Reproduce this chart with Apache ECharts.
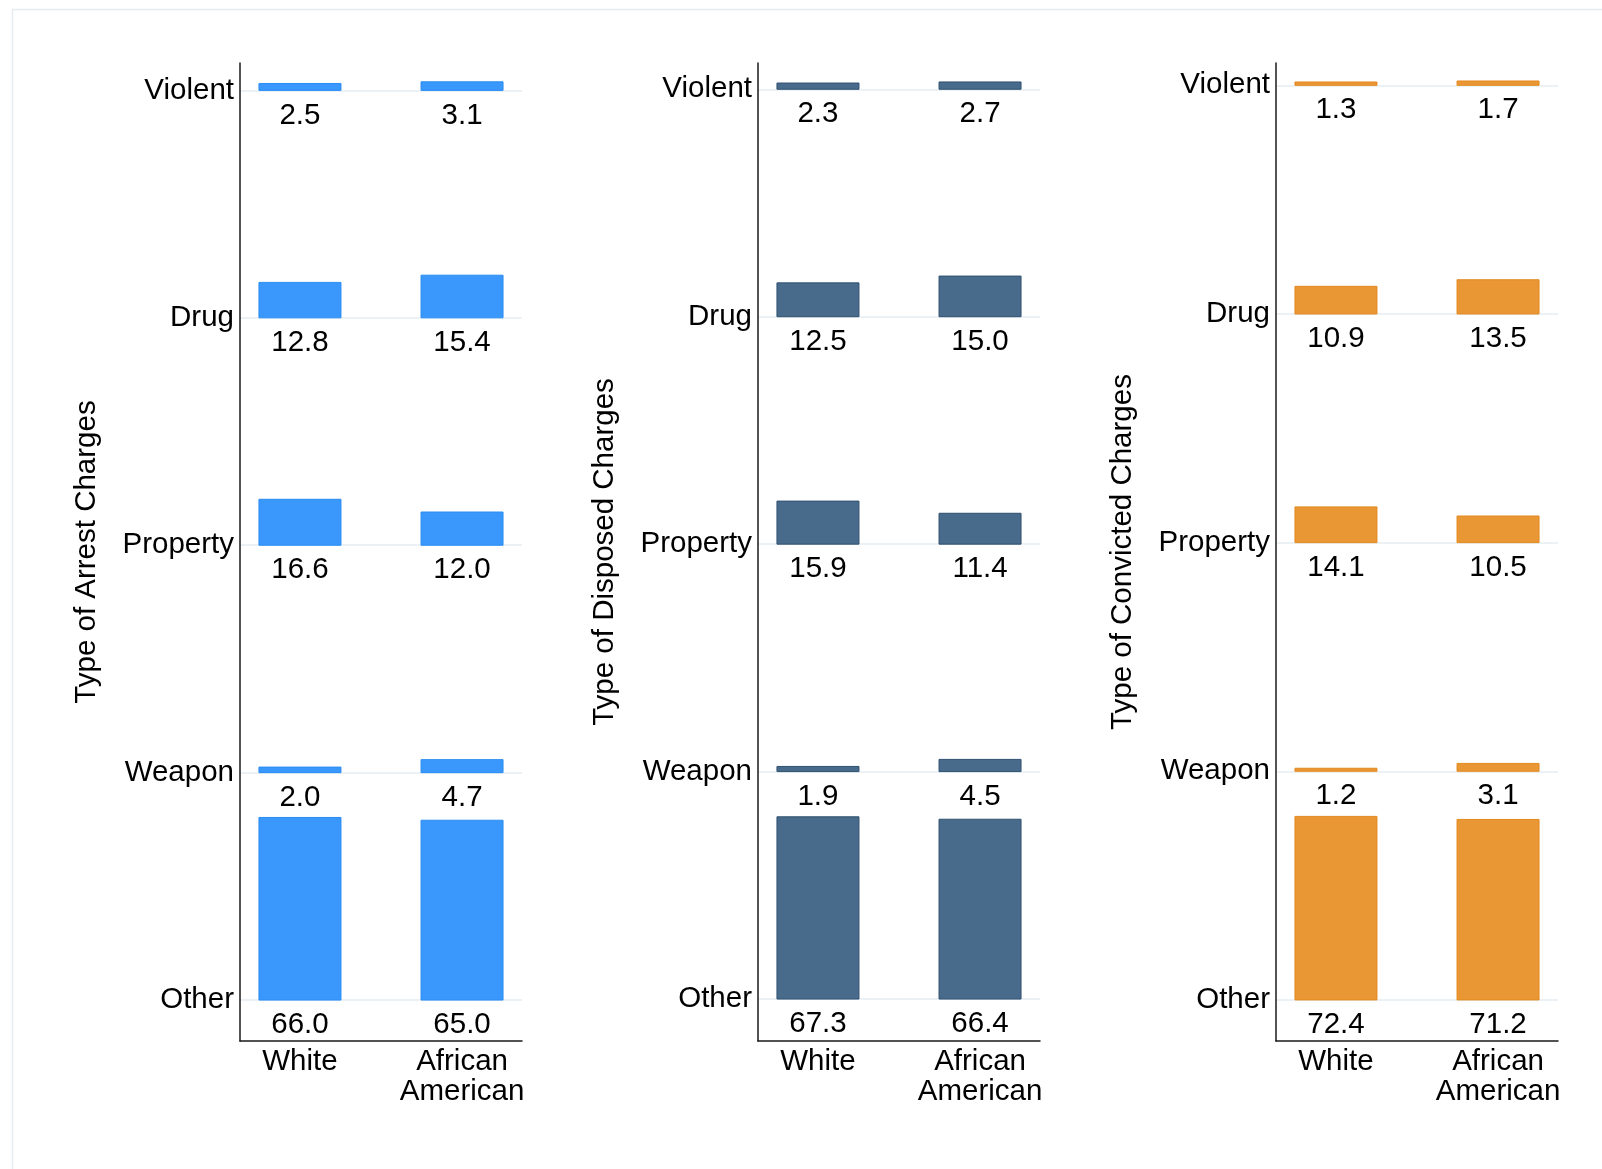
<!DOCTYPE html>
<html>
<head>
<meta charset="utf-8">
<script src="https://cdn.jsdelivr.net/npm/echarts@6/dist/echarts.min.js"></script>
<style>
html,body{margin:0;padding:0;background:#fff;}
#chart{width:1602px;height:1169px;}
</style>
</head>
<body>
<div id="chart"></div>
<script>
// ---- data ----
const categories = ['Violent', 'Drug', 'Property', 'Weapon', 'Other'];
const groups = ['White', 'African\nAmerican'];
const panelTitles = ['Type of Arrest Charges', 'Type of Disposed Charges', 'Type of Convicted Charges'];
const arrestWhite = [2.5, 12.8, 16.6, 2.0, 66.0];
const arrestAA = [3.1, 15.4, 12.0, 4.7, 65.0];
const disposedWhite = [2.3, 12.5, 15.9, 1.9, 67.3];
const disposedAA = [2.7, 15.0, 11.4, 4.5, 66.4];
const convictedWhite = [1.3, 10.9, 14.1, 1.2, 72.4];
const convictedAA = [1.7, 13.5, 10.5, 3.1, 71.2];

// ---- layout / style ----
const panelValues = [[arrestWhite, arrestAA], [disposedWhite, disposedAA], [convictedWhite, convictedAA]];
const panelColors = [
  {fill: '#3a98fc', stroke: '#2a8cf2'},
  {fill: '#496b8b', stroke: '#2f5070'},
  {fill: '#e99735', stroke: '#e3891f'}
];
// row spacing (axis units) and axis range per panel
const rowStep = [82.2, 84.0, 90.2];
const yMin = [-14.8, -15.5, -16.2];
const yMax = [338.7, 345.7, 369.6];
const gridLeft = [240, 758, 1276];
const FONT = 'Liberation Sans, Arial, Helvetica, sans-serif';
const FS = 29.5;
const BAR_W = 82;

const chart = echarts.init(document.getElementById('chart'), null, {renderer: 'canvas'});

const grids = [], xAxes = [], yAxes = [], series = [];
const nRows = categories.length;

panelValues.forEach((pv, p) => {
  const step = rowStep[p];
  const rowVals = categories.map((c, i) => (nRows - 1 - i) * step);
  grids.push({left: gridLeft[p], top: 63, width: 282, height: 978, containLabel: false});
  xAxes.push({
    type: 'value', gridIndex: p, min: -0.37, max: 1.37, position: 'bottom',
    axisLine: {show: true, onZero: false, lineStyle: {color: '#1a1a1a', width: 1.5}},
    axisTick: {show: false, customValues: [0, 1]},
    splitLine: {show: false},
    axisLabel: {
      customValues: [0, 1], margin: 6,
      formatter: v => groups[Math.round(v)],
      color: '#000', fontFamily: FONT, fontSize: FS, lineHeight: 30
    }
  });
  yAxes.push({
    type: 'value', gridIndex: p, min: yMin[p], max: yMax[p], position: 'left',
    name: panelTitles[p], nameLocation: 'middle', nameRotate: 90, nameGap: 138,
    nameTextStyle: {color: '#000', fontFamily: FONT, fontSize: FS},
    axisLine: {show: true, onZero: false, lineStyle: {color: '#1a1a1a', width: 1.5}},
    axisTick: {show: false, customValues: rowVals},
    splitLine: {show: true, lineStyle: {color: '#e4edf0', width: 1.5}},
    axisLabel: {
      customValues: rowVals, margin: 6, padding: [8, 0, 0, 0],
      formatter: v => categories[nRows - 1 - Math.round(v / step)],
      color: '#000', fontFamily: FONT, fontSize: FS
    }
  });
  pv.forEach((vals, g) => {
    series.push({
      type: 'custom',
      xAxisIndex: p, yAxisIndex: p,
      data: vals.map((v, i) => [g, i, v]),
      renderItem: (params, api) => {
        const gi = api.value(0);
        const ri = api.value(1);
        const v = api.value(2);
        const basePos = (nRows - 1 - ri) * step;
        const base = api.coord([gi, basePos]);
        const top = api.coord([gi, basePos + v]);
        return {
          type: 'group',
          children: [
            {
              type: 'rect',
              shape: {x: base[0] - BAR_W / 2, y: top[1], width: BAR_W, height: base[1] - top[1]},
              style: {fill: panelColors[p].fill, stroke: panelColors[p].stroke, lineWidth: 1}
            },
            {
              type: 'text',
              style: {
                text: v.toFixed(1), x: base[0], y: base[1] + 25,
                align: 'center', verticalAlign: 'middle',
                fill: '#000', font: FS + 'px ' + FONT
              }
            }
          ]
        };
      }
    });
  });
});

chart.setOption({
  backgroundColor: '#fff',
  animation: false,
  graphic: [{
    type: 'rect', left: 10, top: 7, silent: true,
    shape: {width: 1700, height: 1300},
    style: {fill: 'none', stroke: '#e6ecee', lineWidth: 1.5}
  }],
  grid: grids,
  xAxis: xAxes,
  yAxis: yAxes,
  series: series
});
</script>
</body>
</html>
